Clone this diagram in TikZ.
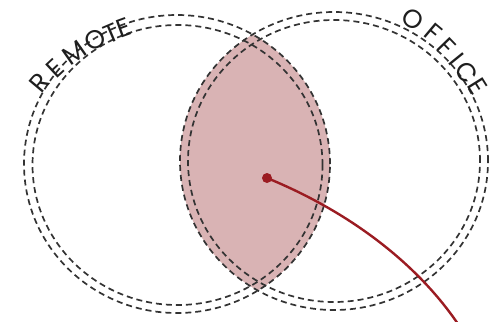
\documentclass[tikz,border=0pt]{standalone}
\usepackage{fontspec}
\newfontfamily\lblfont{Poppins}
\definecolor{lensfill}{HTML}{D9B3B4}
\definecolor{pinred}{HTML}{9B1C22}
\definecolor{dashgray}{HTML}{333333}
\definecolor{lettergray}{HTML}{1E1E1E}
\begin{document}
\begin{tikzpicture}[x=1bp,y=-1bp,
  ring/.style={draw=dashgray,line width=1.7bp,dash pattern=on 6bp off 4bp},
  letter/.style={inner sep=0pt,text=lettergray,font=\lblfont\fontsize{26}{26}\selectfont},
  pin/.style={draw=pinred,line width=2.4bp}]
\useasboundingbox (0,0) rectangle (490,321);
\clip (0,0) rectangle (490,321);
\coordinate (LC) at (177,164);
\coordinate (RC) at (334,161);
% lens
\begin{scope}
  \clip (LC) ellipse [x radius=153bp, y radius=149bp];
  \fill[lensfill] (RC) ellipse [x radius=154bp, y radius=149bp];
\end{scope}
% dashed rings
\draw[ring] (LC) ellipse [x radius=153bp, y radius=149bp];
\draw[ring] (177.5,165) ellipse [x radius=145bp, y radius=140bp];
\draw[ring] (RC) ellipse [x radius=154bp, y radius=149bp];
\draw[ring] (334,161) ellipse [x radius=146bp, y radius=141bp];
% REMOTE
\node[letter,rotate=50] (r1) at (40,83) {R};
\node[letter,rotate=43] (r2) at (55,68) {E};
\node[letter,rotate=35] (r3) at (74,53) {M};
\node[letter,rotate=28] (r4) at (95,40) {O};
\node[letter,rotate=23] (r5) at (111,33) {T};
\node[letter,rotate=20] (r6) at (124,28) {E};
% OFFICE
\node[letter,rotate=-32] (o1) at (413,19) {O};
\node[letter,rotate=-40] (o2) at (433,33) {F};
\node[letter,rotate=-46] (o3) at (447,47) {F};
\node[letter,rotate=-51] (o4) at (457,59) {I};
\node[letter,rotate=-55] (o5) at (467,72) {C};
\node[letter,rotate=-58] (o6) at (478,86) {E};
% pin
\coordinate (dot) at (267,178);
\coordinate (tail) at (462,330);
\draw[pin] (dot) .. controls (350,212) and (420,265) .. (tail);
\fill[pinred] (dot) circle (5bp);
\end{tikzpicture}
\end{document}
